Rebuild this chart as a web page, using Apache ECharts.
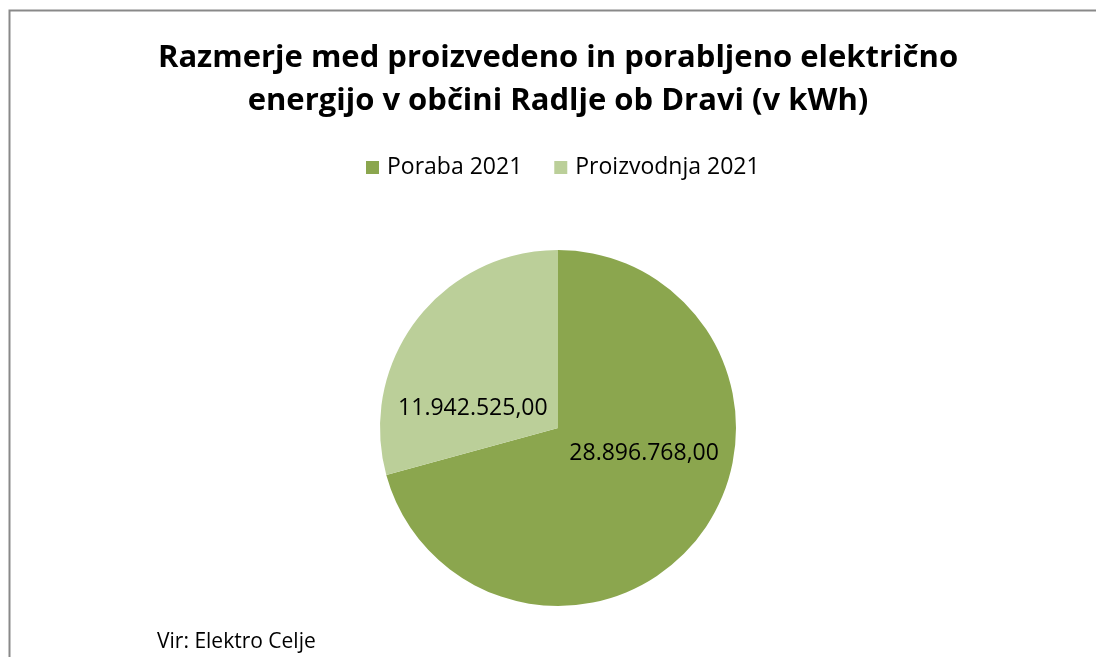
<!DOCTYPE html>
<html><head><meta charset="utf-8">
<script src="https://cdn.jsdelivr.net/npm/echarts@6/dist/echarts.min.js"></script>
<style>html,body{margin:0;padding:0;background:#fff}#c{width:1096px;height:657px}</style>
</head><body><div id="c"></div>
<script>
const categories = ['Poraba 2021', 'Proizvodnja 2021'];
const values = [28896768.00, 11942525.00];
const colors = ['#8BA64E', '#BBCF99'];
const titleText = 'Razmerje med proizvedeno in porabljeno električno\nenergijo v občini Radlje ob Dravi (v kWh)';
const sourceText = 'Vir: Elektro Celje';

function fmt(v){
  const parts = v.toFixed(2).split('.');
  return parts[0].replace(/\B(?=(\d{3})+(?!\d))/g, '.') + ',' + parts[1];
}
const FONT = 'Open Sans';
const labelShift = [[13, -30], [-12, 36]];

const chart = echarts.init(document.getElementById('c'), null, {renderer: 'canvas'});
chart.setOption({
  animation: false,
  backgroundColor: '#fff',
  color: colors,
  legend: {
    data: categories, top: 151, left: 361,
    itemWidth: 13, itemHeight: 13, itemGap: 32, icon: 'rect',
    textStyle: {fontFamily: FONT, fontSize: 23, color: '#000', padding: [0, 0, 0, 3]}
  },
  graphic: [
    {type: 'rect', shape: {x: 9.5, y: 10.5, width: 1200, height: 800}, style: {fill: 'none', stroke: '#898989', lineWidth: 2}, silent: true},
    {type: 'text', x: 558, y: 37, style: {text: titleText, font: 'bold 31px "Open Sans"', fill: '#000', align: 'center', lineHeight: 43}},
    {type: 'text', left: 157, top: 632, style: {text: sourceText, font: '21px "Open Sans"', fill: '#000'}}
  ],
  series: [{
    type: 'pie',
    center: [558, 428], radius: 178,
    startAngle: 90, clockwise: true,
    label: {show: true, position: 'inside', fontFamily: FONT, fontSize: 23, color: '#000',
      formatter: p => fmt(p.value)},
    labelLine: {show: false},
    labelLayout: p => ({dx: labelShift[p.dataIndex][0], dy: labelShift[p.dataIndex][1]}),
    itemStyle: {borderWidth: 0},
    emphasis: {disabled: true},
    data: categories.map((c, i) => ({name: c, value: values[i]}))
  }]
});
</script></body></html>
